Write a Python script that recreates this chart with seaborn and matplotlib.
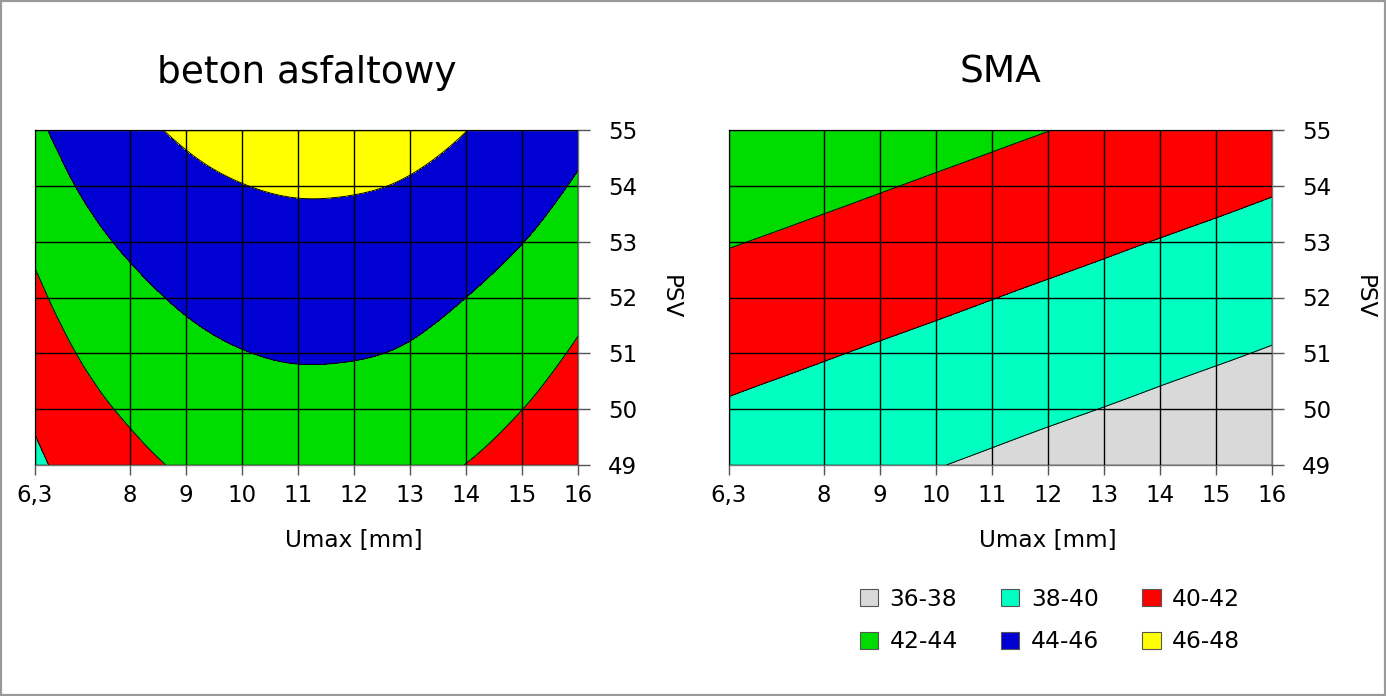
import numpy as np
import matplotlib
matplotlib.use("Agg")
import matplotlib.pyplot as plt
import matplotlib.tri as mtri
from matplotlib.patches import Patch, Rectangle
import seaborn as sns

# ---- data ----
umax = [6.3, 7, 8, 9, 10, 11, 12, 13, 14, 15, 16]
psv = [49, 50, 51, 52, 53, 54, 55]

# rows = PSV 49..55, columns = Umax values above
beton = [
    [39.63, 40.61, 41.56, 42.20, 42.60, 42.78, 42.74, 42.50, 41.98, 41.34, 40.44],
    [40.30, 41.28, 42.23, 42.87, 43.27, 43.45, 43.41, 43.17, 42.65, 42.01, 41.11],
    [40.98, 41.96, 42.91, 43.55, 43.95, 44.13, 44.09, 43.85, 43.33, 42.69, 41.79],
    [41.65, 42.63, 43.58, 44.22, 44.62, 44.80, 44.76, 44.52, 44.00, 43.36, 42.46],
    [42.32, 43.30, 44.25, 44.89, 45.29, 45.47, 45.43, 45.19, 44.67, 44.03, 43.13],
    [43.00, 43.98, 44.93, 45.57, 45.97, 46.15, 46.11, 45.87, 45.35, 44.71, 43.81],
    [43.67, 44.65, 45.60, 46.24, 46.64, 46.82, 46.78, 46.54, 46.02, 45.38, 44.48],
]
sma = [
    [39.07, 38.88, 38.60, 38.32, 38.05, 37.77, 37.49, 37.21, 36.93, 36.66, 36.38],
    [39.83, 39.63, 39.36, 39.08, 38.80, 38.52, 38.24, 37.97, 37.69, 37.41, 37.13],
    [40.58, 40.39, 40.11, 39.83, 39.56, 39.28, 39.00, 38.72, 38.44, 38.17, 37.89],
    [41.34, 41.14, 40.87, 40.59, 40.31, 40.03, 39.75, 39.48, 39.20, 38.92, 38.64],
    [42.09, 41.90, 41.62, 41.34, 41.07, 40.79, 40.51, 40.23, 39.95, 39.68, 39.40],
    [42.85, 42.65, 42.38, 42.10, 41.82, 41.54, 41.26, 40.99, 40.71, 40.43, 40.15],
    [43.60, 43.41, 43.13, 42.85, 42.58, 42.30, 42.02, 41.74, 41.46, 41.19, 40.91],
]

x_ticks = [6.3, 8, 9, 10, 11, 12, 13, 14, 15, 16]
x_tick_labels = ["6,3", "8", "9", "10", "11", "12", "13", "14", "15", "16"]
y_ticks = [49, 50, 51, 52, 53, 54, 55]
levels = [36, 38, 40, 42, 44, 46, 48]
range_labels = ["36-38", "38-40", "40-42", "42-44", "44-46", "46-48"]
colors = ["#D9D9D9", "#00FFC0", "#FF0000", "#00DC00", "#0000D2", "#FFFF00"]
titles = ["beton asfaltowy", "SMA"]
x_label = "Umax [mm]"
y_label = "PSV"

# ---- styling ----
sns.set_theme(style="white")
plt.rcParams["font.family"] = ["DejaVu Sans"]
plt.rcParams["text.color"] = "black"

W, H = 1386, 696
fig = plt.figure(figsize=(W / 100, H / 100), dpi=100)
fig.patch.set_facecolor("white")

axes_px = [(35, 130, 578, 465), (729, 130, 1272, 465)]
axes = []
for (x0, y0, x1, y1) in axes_px:
    axes.append(fig.add_axes([x0 / W, 1 - y1 / H, (x1 - x0) / W, (y1 - y0) / H]))

# triangulation of the data grid (explicit triangles)
nx, ny = len(umax), len(psv)
Xg, Yg = np.meshgrid(umax, psv)
tris = []
for j in range(ny - 1):
    for i in range(nx - 1):
        p = j * nx + i
        tris.append([p, p + 1, p + nx + 1])
        tris.append([p, p + nx + 1, p + nx])
tri = mtri.Triangulation(Xg.ravel(), Yg.ravel(), triangles=np.array(tris))
refiner = mtri.UniformTriRefiner(tri)

for ax, title, table in zip(axes, titles, [beton, sma]):
    z = np.asarray(table, dtype=float).ravel()
    tri_f, z_f = refiner.refine_field(z, subdiv=4)
    ax.tricontourf(tri_f, z_f, levels=levels, colors=colors, zorder=1)
    ax.tricontour(tri_f, z_f, levels=levels, colors="black", linewidths=0.7, zorder=1.5)

    ax.set_xlim(6.3, 16)
    ax.set_ylim(49, 55)
    ax.set_xticks(x_ticks)
    ax.set_xticklabels(x_tick_labels)
    ax.set_yticks(y_ticks)
    ax.set_yticklabels([str(v) for v in y_ticks])

    ax.set_axisbelow(False)
    ax.grid(True, color="black", linewidth=1.0)

    ax.yaxis.tick_right()
    ax.yaxis.set_label_position("right")
    ax.tick_params(axis="x", bottom=True, top=False, direction="out", length=7.5,
                   width=1.0, color="#555555", labelsize=16.5, pad=6, labelcolor="black")
    ax.tick_params(axis="y", right=True, left=False, direction="out", length=8.5,
                   width=1.0, color="#555555", labelsize=16.5, pad=13, labelcolor="black")
    for sp in ax.spines.values():
        sp.set_visible(True)
        sp.set_color("#777777")
        sp.set_linewidth(1.0)

    ax.set_title(title, fontsize=27, pad=34, color="black")
    ax.set_xlabel(x_label, fontsize=16.7, color="black")
    ax.xaxis.set_label_coords(0.587, -0.224)
    ax.xaxis.label.set_va("center")
    ax.set_ylabel(y_label, fontsize=16.7, rotation=270, color="black")
    ax.yaxis.label.set_va("center")
    ax.yaxis.set_label_coords(1.169, 0.5)

# legend (row-wise order in a 3-column layout)
handles = [Patch(facecolor=c, edgecolor="#555555", linewidth=0.8, label=l)
           for c, l in zip(colors, range_labels)]
order = [0, 3, 1, 4, 2, 5]
leg = fig.legend([handles[i] for i in order], [range_labels[i] for i in order],
                 loc="center", bbox_to_anchor=(1050 / W, 1 - 620.5 / H), ncol=3,
                 frameon=False, fontsize=16.8, handlelength=0.78, handleheight=0.78,
                 handletextpad=0.5, columnspacing=1.85, labelspacing=0.85)
for t in leg.get_texts():
    t.set_color("black")

# thin frame around the figure
fig.add_artist(Rectangle((0, 0), 1, 1, transform=fig.transFigure, fill=False,
                         edgecolor="#999999", linewidth=3))

fig.savefig("out.png", dpi=100)
